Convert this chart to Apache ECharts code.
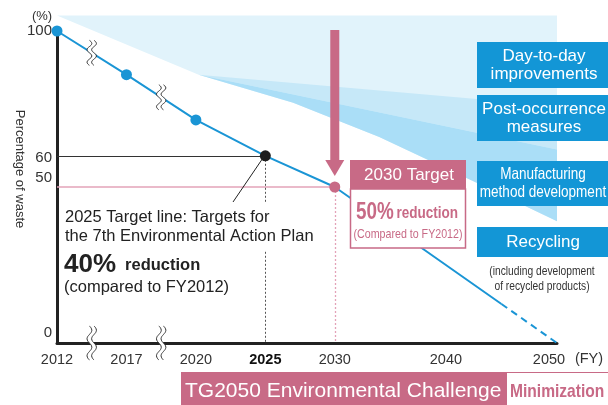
<!DOCTYPE html>
<html><head><meta charset="utf-8">
<script src="https://cdn.jsdelivr.net/npm/echarts@6/dist/echarts.min.js"></script>
<style>html,body{margin:0;padding:0;background:#fff}#c{width:608px;height:405px}</style>
</head><body><div id="c"></div>
<script>
// ---- data ----
const years = [2012, 2017, 2020, 2025, 2030, 2045];
const wastePct = [100, 86, 71.5, 60, 50, 12.5];
const dashedYears = [2045, 2050];
const dashedPct = [12.5, 0];
const xTickYears = [2012, 2017, 2020, 2025, 2030, 2040, 2050];
const yTickValues = [0, 50, 60, 100];
const target2025 = [2025, 60];
const target2030 = [2030, 50];
// shaded approach wedges [year, %]
const wedgeAll = [[2012,105],[2050,105],[2050,39],[2043,51],[2034,66],[2027,77],[2020.2,86]];
const wedgeMid = [[2020.2,86],[2050,76],[2050,62]];
const wedgeDark = [[2020.2,86],[2050,62],[2050,39],[2043,51],[2034,66],[2027,77]];

// ---- styles ----
const BLUE = '#1a95d5', PINK = '#c86a86', LIGHTPINK = '#e3a3b8', BOXBLUE = '#1396d6';
const markerColor = {2025: '#1e1e1e', 2030: PINK};
const wedgeColors = ['#e1f3fb', '#c6e8f8', '#aadef7'];
const FONT = '"Liberation Sans", Arial, sans-serif';
const NARROW_SCALE = 0.82;

// broken / piecewise year scale (axis units)
function X(y){
  if (y <= 2017) return y - 2012;
  if (y <= 2020) return 5 + (y - 2017) * 5 / 3;
  if (y <= 2030) return 10 + (y - 2020);
  return 20 + (y - 2030) * 0.8;
}

const chart = echarts.init(document.getElementById('c'), null, {renderer: 'canvas'});

const wedges = [wedgeAll, wedgeMid, wedgeDark];

function wavePts(cx, cy, L, dx){
  const pts = [];
  for (let k = 0; k <= 12; k++) {
    pts.push([cx + dx + 2.4 * Math.sin(k * Math.PI / 3), cy - L / 2 + k * L / 12]);
  }
  return pts;
}
function breakMark(cx, cy, L){
  const left = wavePts(cx, cy, L, -2.3), right = wavePts(cx, cy, L, 2.3);
  return [
    {type:'polygon', shape:{points: left.concat(right.slice().reverse())}, style:{fill:'#fff'}},
    {type:'polyline', shape:{points:left, smooth:0.5}, style:{stroke:'#333', lineWidth:1, fill:null}},
    {type:'polyline', shape:{points:right, smooth:0.5}, style:{stroke:'#333', lineWidth:1, fill:null}}
  ];
}

const option = {
  animation: false,
  grid: {left: 57, right: 51, top: 31, bottom: 62},
  xAxis: {
    type: 'value', min: 0, max: X(2050),
    axisLine: {lineStyle: {color: '#222', width: 3}},
    axisTick: {show: false}, splitLine: {show: false},
    axisLabel: {
      customValues: xTickYears.map(X), margin: 9, fontSize: 14.5, color: '#333', fontFamily: FONT,
      formatter: v => {
        const yr = xTickYears.find(y => Math.abs(X(y) - v) < 1e-6);
        if (yr === 2025) return '{b|' + yr + '}';
        if (yr === 2050) return '{e|' + yr + '}';
        return String(yr);
      },
      rich: {
        b: {fontWeight: 'bold', fontSize: 14.5, color: '#111', fontFamily: FONT},
        e: {fontSize: 14.5, color: '#333', fontFamily: FONT, padding: [0, 16, 0, 0]}
      }
    }
  },
  yAxis: {
    type: 'value', min: 0, max: 100,
    axisLine: {show: true, lineStyle: {color: '#222', width: 3}},
    axisTick: {show: false}, splitLine: {show: false},
    axisLabel: {
      customValues: yTickValues, margin: 5, fontSize: 15, color: '#333', fontFamily: FONT,
      formatter: v => '{t' + v + '|' + v + '}',
      rich: {
        t0: {fontSize: 15, color: '#333', fontFamily: FONT, padding: [0, 0, 20, 0]},
        t50: {fontSize: 15, color: '#333', fontFamily: FONT, padding: [0, 0, 18, 0]},
        t60: {fontSize: 15, color: '#333', fontFamily: FONT, padding: [4, 0, 0, 0]},
        t100: {fontSize: 15, color: '#333', fontFamily: FONT}
      }
    }
  },
  series: [
    {
      type: 'custom', z: 1, silent: true, clip: false,
      data: wedges.map(() => [0, 0]),
      renderItem: (params, api) => ({
        type: 'polygon',
        shape: {points: wedges[params.dataIndex].map(p => api.coord([X(p[0]), p[1]]))},
        style: {fill: wedgeColors[params.dataIndex]}
      })
    },
    {
      type: 'line', z: 5, silent: true,
      data: years.map((y, i) => ({
        value: [X(y), wastePct[i]],
        symbol: y === 2045 ? 'none' : 'circle',
        itemStyle: {color: markerColor[y] || BLUE}
      })),
      symbolSize: 11,
      lineStyle: {color: BLUE, width: 2},
      markLine: {
        silent: true, symbol: ['none', 'none'], label: {show: false}, z: 3,
        data: [
          [{coord: [X(2012), target2025[1]], lineStyle: {color: '#333', width: 1, type: 'solid'}}, {coord: [X(target2025[0]), target2025[1]]}],
          [{coord: [X(2012), target2030[1]], lineStyle: {color: LIGHTPINK, width: 1.6, type: 'solid'}}, {coord: [X(target2030[0]), target2030[1]]}],
          [{coord: [X(target2025[0]), target2025[1]], lineStyle: {color: '#555', width: 1, type: [2, 2]}}, {coord: [X(target2025[0]), 0]}],
          [{coord: [X(target2030[0]), target2030[1]], lineStyle: {color: LIGHTPINK, width: 1.3, type: [2, 2]}}, {coord: [X(target2030[0]), 0]}]
        ]
      }
    },
    {
      type: 'line', z: 5, silent: true, symbol: 'none',
      data: dashedYears.map((y, i) => [X(y), dashedPct[i]]),
      lineStyle: {color: BLUE, width: 2, type: [7, 5]}
    },
    {
      type: 'custom', z: 4, silent: true, clip: false,
      data: [[0, 0]],
      renderItem: (params, api) => {
        const top = api.coord([X(target2030[0]), 100]);
        const dot = api.coord([X(target2030[0]), target2030[1]]);
        const tip = dot[1] - 11, headTop = tip - 16, x = top[0];
        return {type: 'group', children: [
          {type: 'rect', shape: {x: x - 4.5, y: top[1] - 1, width: 9, height: headTop - top[1] + 2}, style: {fill: PINK}},
          {type: 'polygon', shape: {points: [[x - 9.5, headTop], [x + 9.5, headTop], [x, tip]]}, style: {fill: PINK}}
        ]};
      }
    },
    {
      type: 'custom', z: 7, silent: true, clip: false,
      data: [[0, 0], [0, 0], [0, 0], [0, 0]],
      renderItem: (params, api) => {
        const i = params.dataIndex % 2;
        const a = api.coord([X(years[i]), wastePct[i]]);
        const b = api.coord([X(years[i + 1]), wastePct[i + 1]]);
        const cx = (a[0] + b[0]) / 2;
        if (params.dataIndex < 2) {
          return {type: 'group', children: breakMark(cx, (a[1] + b[1]) / 2, 25)};
        }
        const axisY = api.coord([0, 0])[1];
        return {type: 'group', children: breakMark(cx, axisY, 34)};
      }
    }
  ],
  graphic: [
    {type: 'text', z: 100, x: 42, y: 16, style: {text: '(%)', font: '13px ' + FONT, fill: '#333', align: 'center', verticalAlign: 'middle'}},
    {type: 'text', z: 100, x: 20, y: 169, rotation: -Math.PI / 2, style: {text: 'Percentage of waste', font: '13px ' + FONT, fill: '#333', align: 'center', verticalAlign: 'middle'}},
    {type: 'text', z: 100, x: 589, y: 359, style: {text: '(FY)', font: '14.5px ' + FONT, fill: '#333', align: 'center', verticalAlign: 'middle'}},
    // blue boxes
    {type: 'rect', z: 100, shape: {x: 477, y: 42, width: 131, height: 46}, style: {fill: BOXBLUE}},
    {type: 'text', z: 101, x: 544, y: 65, style: {text: 'Day-to-day\nimprovements', font: '17px ' + FONT, lineHeight: 18, fill: '#fff', align: 'center', verticalAlign: 'middle'}},
    {type: 'rect', z: 100, shape: {x: 477, y: 95, width: 131, height: 46}, style: {fill: BOXBLUE}},
    {type: 'text', z: 101, x: 544, y: 118, style: {text: 'Post-occurrence\nmeasures', font: '17px ' + FONT, lineHeight: 18, fill: '#fff', align: 'center', verticalAlign: 'middle'}},
    {type: 'rect', z: 100, shape: {x: 477, y: 161, width: 131, height: 45}, style: {fill: BOXBLUE}},
    {type: 'text', z: 101, x: 543, y: 183, scaleX: NARROW_SCALE, style: {text: 'Manufacturing\nmethod development', font: '16.5px ' + FONT, lineHeight: 18, fill: '#fff', align: 'center', verticalAlign: 'middle'}},
    {type: 'rect', z: 100, shape: {x: 477, y: 227, width: 131, height: 30}, style: {fill: BOXBLUE}},
    {type: 'text', z: 101, x: 543, y: 242, style: {text: 'Recycling', font: '17px ' + FONT, fill: '#fff', align: 'center', verticalAlign: 'middle'}},
    {type: 'text', z: 101, x: 542, y: 279, scaleX: NARROW_SCALE, style: {text: '(including development\nof recycled products)', font: '12.5px ' + FONT, lineHeight: 15, fill: '#333', align: 'center', verticalAlign: 'middle'}},
    // 2030 target box
    {type: 'rect', z: 100, shape: {x: 350.5, y: 189, width: 115, height: 59}, style: {fill: '#fff', stroke: PINK, lineWidth: 1.5}},
    {type: 'rect', z: 101, shape: {x: 350, y: 160, width: 116, height: 29}, style: {fill: PINK}},
    {type: 'text', z: 102, x: 409, y: 175, style: {text: '2030 Target', font: '17px ' + FONT, fill: '#fff', align: 'center', verticalAlign: 'middle'}},
    {type: 'text', z: 102, x: 356, y: 213, scaleX: NARROW_SCALE, style: {text: '{a|50%} {b|reduction}', rich: {a: {font: 'bold 23px ' + FONT, fill: PINK}, b: {font: 'bold 16.5px ' + FONT, fill: PINK}}, align: 'left', verticalAlign: 'middle'}},
    {type: 'text', z: 102, x: 408, y: 234, scaleX: NARROW_SCALE, style: {text: '(Compared to FY2012)', font: '13px ' + FONT, fill: PINK, align: 'center', verticalAlign: 'middle'}},
    // 2025 annotation
    {type: 'line', z: 100, shape: {x1: 265, y1: 155, x2: 233, y2: 202}, style: {stroke: '#222', lineWidth: 1}},
    {type: 'rect', z: 100, shape: {x: 62, y: 203, width: 258, height: 48}, style: {fill: '#fff'}},
    {type: 'text', z: 101, x: 65, y: 227, style: {text: '2025 Target line: Targets for\nthe 7th Environmental Action Plan', font: '16.5px ' + FONT, lineHeight: 19.5, fill: '#222', align: 'left', verticalAlign: 'middle'}},
    {type: 'text', z: 101, x: 64, y: 265, style: {text: '{a|40%}{b|reduction}', rich: {a: {font: 'bold 26px ' + FONT, fill: '#222'}, b: {font: 'bold 16.5px ' + FONT, fill: '#222', padding: [0, 0, 0, 9]}}, align: 'left', verticalAlign: 'middle'}},
    {type: 'text', z: 101, x: 64, y: 287, style: {text: '(compared to FY2012)', font: '16.5px ' + FONT, fill: '#222', align: 'left', verticalAlign: 'middle'}},
    // bottom banner
    {type: 'rect', z: 100, shape: {x: 181, y: 372, width: 326, height: 33}, style: {fill: PINK}},
    {type: 'text', z: 101, x: 185, y: 391, style: {text: 'TG2050 Environmental Challenge', font: '21px ' + FONT, fill: '#fff', align: 'left', verticalAlign: 'middle'}},
    {type: 'line', z: 100, shape: {x1: 507, y1: 372.5, x2: 608, y2: 372.5}, style: {stroke: PINK, lineWidth: 1}},
    {type: 'text', z: 101, x: 510, y: 392, scaleX: NARROW_SCALE, style: {text: 'Minimization', font: 'bold 19px ' + FONT, fill: PINK, align: 'left', verticalAlign: 'middle'}}
  ]
};
chart.setOption(option);
</script>
</body></html>
